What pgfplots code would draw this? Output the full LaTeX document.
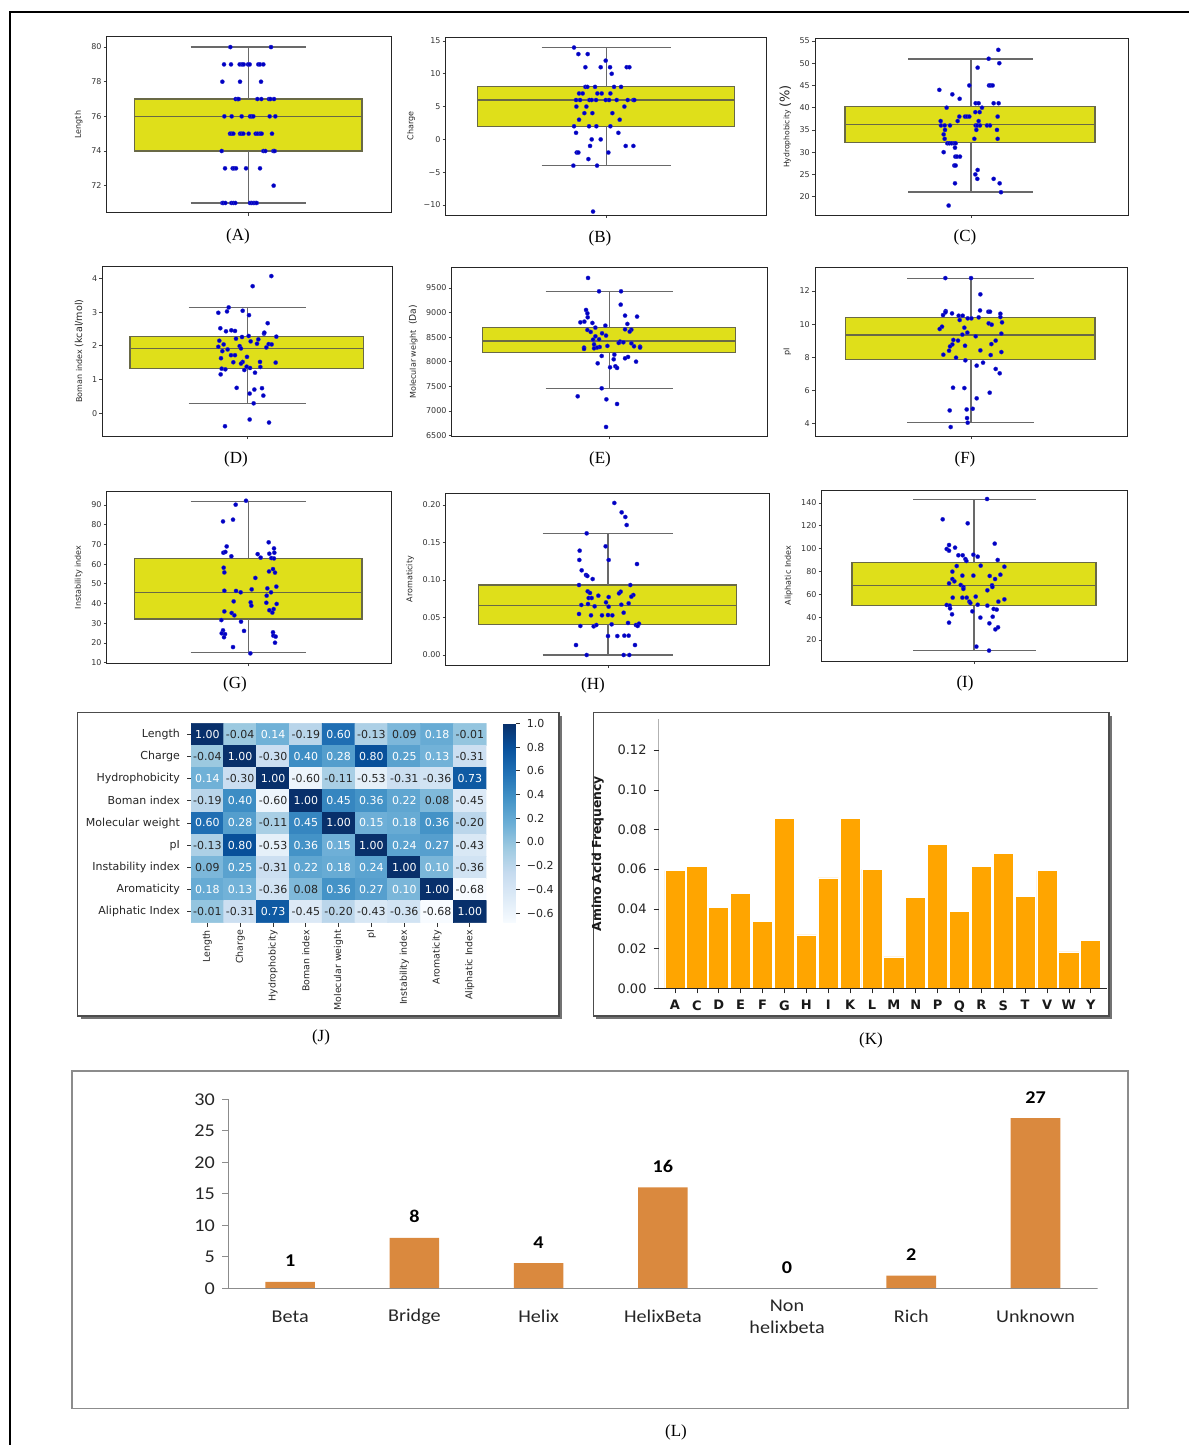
\documentclass[border=0pt]{standalone}
\usepackage{fontspec}
\setmainfont{DejaVu Sans}
\newfontfamily\serifL{Liberation Serif}
\newfontfamily\calib[FakeStretch=1.12]{Carlito}
\usepackage{pgfplots}
\pgfplotsset{compat=1.18}
\usepackage{pgfplotstable}

\definecolor{boxy}{RGB}{223,223,26}
\definecolor{boxedge}{RGB}{105,105,70}
\definecolor{whisk}{RGB}{105,105,105}
\definecolor{dotblue}{RGB}{0,0,195}
\definecolor{kor}{RGB}{255,165,0}
\definecolor{lor}{RGB}{218,137,62}

\newcommand{\tk}{\fontsize{4}{4.5}\selectfont}
\newcommand{\hm}{\fontsize{5.5}{6}\selectfont}
\newcommand{\hmc}{\fontsize{4.7}{5}\selectfont}

\pgfplotsset{
 /pgf/number format/assume math mode=true,
 bp/.style={
   scale only axis, anchor=south west,
   axis line style={black!85, line width=0.45pt},
   tick align=outside, xtick pos=left, ytick pos=left,
   major tick length=1.6pt,
   tick style={black!75, line width=0.35pt},
   xticklabels={},
   ticklabel style={font=\tk, text=black!80},
   yticklabel style={inner sep=0.8pt},
   ylabel style={font=\tk, text=black!85},
 },
 dots/.style={only marks, mark=*, mark size=1.05pt, mark options={fill=dotblue, draw=dotblue!80!white, line width=0.15pt}},
}

% box: left, right, q1, q3, median
\newcommand{\bbox}[5]{%
 \addplot[fill=boxy, draw=boxedge, line width=0.6pt, mark=none] coordinates {(#1,#3) (#2,#3) (#2,#4) (#1,#4)} -- cycle;
 \addplot[draw=boxedge, line width=0.6pt, mark=none] coordinates {(#1,#5) (#2,#5)};
}
% whiskers: capL, capR, centre, low, high, q1, q3
\newcommand{\bwhisk}[7]{%
 \addplot[draw=whisk, line width=0.6pt, mark=none] coordinates {(#3,#4) (#3,#6)};
 \addplot[draw=whisk, line width=0.6pt, mark=none] coordinates {(#3,#7) (#3,#5)};
 \addplot[draw=whisk, line width=0.6pt, mark=none] coordinates {(#1,#4) (#2,#4)};
 \addplot[draw=whisk, line width=0.6pt, mark=none] coordinates {(#1,#5) (#2,#5)};
}

\pgfplotstableread{
x y c
0 0 1.00
1 0 -0.04
2 0 0.14
3 0 -0.19
4 0 0.60
5 0 -0.13
6 0 0.09
7 0 0.18
8 0 -0.01
0 1 -0.04
1 1 1.00
2 1 -0.30
3 1 0.40
4 1 0.28
5 1 0.80
6 1 0.25
7 1 0.13
8 1 -0.31
0 2 0.14
1 2 -0.30
2 2 1.00
3 2 -0.60
4 2 -0.11
5 2 -0.53
6 2 -0.31
7 2 -0.36
8 2 0.73
0 3 -0.19
1 3 0.40
2 3 -0.60
3 3 1.00
4 3 0.45
5 3 0.36
6 3 0.22
7 3 0.08
8 3 -0.45
0 4 0.60
1 4 0.28
2 4 -0.11
3 4 0.45
4 4 1.00
5 4 0.15
6 4 0.18
7 4 0.36
8 4 -0.20
0 5 -0.13
1 5 0.80
2 5 -0.53
3 5 0.36
4 5 0.15
5 5 1.00
6 5 0.24
7 5 0.27
8 5 -0.43
0 6 0.09
1 6 0.25
2 6 -0.31
3 6 0.22
4 6 0.18
5 6 0.24
6 6 1.00
7 6 0.10
8 6 -0.36
0 7 0.18
1 7 0.13
2 7 -0.36
3 7 0.08
4 7 0.36
5 7 0.27
6 7 0.10
7 7 1.00
8 7 -0.68
0 8 -0.01
1 8 -0.31
2 8 0.73
3 8 -0.45
4 8 -0.20
5 8 -0.43
6 8 -0.36
7 8 -0.68
8 8 1.00
}\heat

\pgfplotstableread{
x y l
0 0 1.00
2 0 0.14
4 0 0.60
7 0 0.18
1 1 1.00
3 1 0.40
4 1 0.28
5 1 0.80
6 1 0.25
7 1 0.13
0 2 0.14
2 2 1.00
8 2 0.73
1 3 0.40
3 3 1.00
4 3 0.45
5 3 0.36
6 3 0.22
0 4 0.60
1 4 0.28
3 4 0.45
4 4 1.00
5 4 0.15
6 4 0.18
7 4 0.36
1 5 0.80
3 5 0.36
4 5 0.15
5 5 1.00
6 5 0.24
7 5 0.27
1 6 0.25
3 6 0.22
4 6 0.18
5 6 0.24
6 6 1.00
7 6 0.10
0 7 0.18
1 7 0.13
4 7 0.36
5 7 0.27
6 7 0.10
7 7 1.00
2 8 0.73
8 8 1.00
}\heatw

\pgfplotstableread{
x y l
1 0 -0.04
3 0 -0.19
5 0 -0.13
6 0 0.09
8 0 -0.01
0 1 -0.04
2 1 -0.30
8 1 -0.31
1 2 -0.30
3 2 -0.60
4 2 -0.11
5 2 -0.53
6 2 -0.31
7 2 -0.36
0 3 -0.19
2 3 -0.60
7 3 0.08
8 3 -0.45
2 4 -0.11
8 4 -0.20
0 5 -0.13
2 5 -0.53
8 5 -0.43
0 6 0.09
2 6 -0.31
8 6 -0.36
2 7 -0.36
3 7 0.08
8 7 -0.68
0 8 -0.01
1 8 -0.31
3 8 -0.45
4 8 -0.20
5 8 -0.43
6 8 -0.36
7 8 -0.68
}\heatd

\begin{document}
\begin{tikzpicture}
\path[use as bounding box] (0,0) rectangle (594.5pt,722.5pt);
\draw[line width=1.2pt] (5pt,0pt) -- (5pt,716.5pt) -- (594.5pt,716.5pt);

% frames of J, K, L
\fill[black!55] (40.35pt,213pt) rectangle (281pt,364.65pt);
\filldraw[fill=white, draw=black!70, line width=0.6pt] (38.85pt,214.5pt) rectangle (279.5pt,366.15pt);
\fill[black!55] (298.2pt,213pt) rectangle (556pt,364.65pt);
\filldraw[fill=white, draw=black!70, line width=0.6pt] (296.7pt,214.5pt) rectangle (554.5pt,366.15pt);
\draw[black!45, line width=0.7pt] (36pt,18.35pt) rectangle (564pt,187pt);

% ---------------- A
\begin{axis}[bp, at={(53.35pt,616.15pt)}, width=142.15pt, height=88pt,
 xmin=110, xmax=963, ymin=70.44, ymax=80.6, xtick={535},
 ytick={72,74,76,78,80}, yticklabels={72,74,76,78,80}, ylabel={Length}]
\bbox{193}{876}{74}{77}{76}
\bwhisk{362}{707}{535}{71}{80}{74}{77}
\addplot[dots] coordinates {
(481,80)(603,80)
(462,79)(483,79)(509,79)(516,79)(521,79)(534,79)(539,79)(565,79)(570,79)(580,79)
(457,78)(510,78)(573,78)
(497,77)(503,77)(506,77)(562,77)(574,77)(597,77)(601,77)(612,77)
(463,76)(485,76)(515,76)(540,76)(545,76)(550,76)(599,76)(616,76)
(480,75)(485,75)(490,75)(510,75)(515,75)(520,75)(536,75)(557,75)(563,75)(570,75)(575,75)(606,75)
(455,74)(580,74)(586,74)(610,74)(614,74)
(465,73)(488,73)(492,73)(498,73)(528,73)(570,73)
(611,72)
(457,71)(460,71)(466,71)(484,71)(490,71)(496,71)(540,71)(545,71)(550,71)(555,71)(560,71)};
\end{axis}

% ---------------- B
\begin{axis}[bp, at={(222.85pt,615pt)}, width=160.5pt, height=88.85pt,
 xmin=137, xmax=1100, ymin=-11.52, ymax=15.56, xtick={619},
 ytick={-10,-5,0,5,10,15}, yticklabels={−10,−5,0,5,10,15}, ylabel={Charge}]
\bbox{232}{1003}{2}{8}{6}
\bwhisk{425}{812}{619}{-4}{14}{2}{8}
\addplot[dots] coordinates {
(522,14)(535,13)(563,13)(617,12)(556,11)(602,11)(630,11)(680,11)(688,11)(635,10)
(556,8)(562,8)(585,8)(642,8)(663,8)(537,7)(548,7)(592,7)(605,7)(631,7)
(528,6)(540,6)(568,6)(575,6)(588,6)(617,6)(627,6)(650,6)(683,6)(700,6)(703,6)
(529,5)(559,5)(673,5)(553,4)(577,4)(637,4)(537,3)(659,3)(522,2)(567,2)(589,2)(631,2)
(528,1)(655,1)(575,0)(602,0)(570,-1)(677,-1)(700,-1)(530,-2)(535,-2)(625,-2)
(565,-3)(520,-4)(591,-4)(579,-11)};
\end{axis}

% ---------------- C
\begin{axis}[bp, at={(407.5pt,615pt)}, width=156.65pt, height=88.35pt,
 xmin=135, xmax=1075, ymin=15.88, ymax=55.6, xtick={603},
 ytick={20,25,30,35,40,45,50,55}, yticklabels={20,25,30,35,40,45,50,55},
 ylabel={{\fontsize{3.8}{4}\selectfont Hydrophobicity }{\fontsize{6.5}{7}\selectfont (\%)}}]
\bbox{225}{975}{32.2}{40.3}{36.2}
\bwhisk{415}{790}{603}{21.05}{50.96}{32.2}{40.3}
\addplot[dots] coordinates {
(685,53)(656,51)(688,50)(623,49)(598,45)(657,45)(662,45)(668,45)(508,44)(547,43)(569,42)
(617,41)(626,41)(671,41)(686,41)(530,40)(636,40)(616,39)(629,39)
(568,38)(585,38)(591,38)(598,38)(683,38)(512,37)(563,37)(626,37)
(513,36)(524,36)(540,36)(617,36)(622,36)(630,36)(651,36)(660,36)
(525,35)(619,35)(681,35)(521,34)(524,33)(613,33)(683,33)
(532,32)(538,32)(545,32)(552,32)(557,32)(555,31)(521,30)(556,29)(561,29)(570,29)
(553,27)(557,27)(623,26)(616,25)(622,24)(671,24)(555,23)(689,23)(693,21)(536,18)};
\end{axis}

% ---------------- D
\begin{axis}[bp, at={(51.15pt,504.5pt)}, width=145.2pt, height=85pt,
 xmin=97, xmax=968, ymin=-0.68, ymax=4.37, xtick={533},
 ytick={0,1,2,3,4}, yticklabels={0,1,2,3,4},
 ylabel={{\fontsize{4}{4.5}\selectfont Boman index }{\fontsize{4.8}{5}\selectfont (kcal/mol)}}]
\bbox{180}{880}{1.32}{2.27}{1.92}
\bwhisk{356}{708}{533}{0.29}{3.13}{1.32}{2.27}
\addplot[dots] coordinates {
(604,4.07)(548,3.77)(476,3.14)(445,2.98)(471,3.02)(518,3.04)(537,2.91)(593,2.67)
(451,2.52)(468,2.43)(484,2.46)(495,2.44)(582,2.36)(583,2.39)(619,2.27)(498,2.21)
(516,2.26)(536,2.29)(565,2.19)(448,2.15)(542,2.13)(461,2.04)(561,2.06)(596,2.05)
(605,2.04)(445,1.97)(509,1.99)(513,1.92)(473,1.89)(589,1.95)(457,1.84)(483,1.72)
(495,1.72)(531,1.67)(453,1.63)(490,1.51)(518,1.52)(513,1.47)(570,1.52)(617,1.50)
(530,1.38)(571,1.37)(455,1.32)(466,1.30)(523,1.28)(540,1.34)(555,1.20)(452,1.15)
(500,0.75)(553,0.70)(576,0.74)(539,0.58)(580,0.52)(551,0.29)(539,-0.19)(465,-0.39)(597,-0.28)};
\end{axis}

% ---------------- E
\begin{axis}[bp, at={(225.85pt,504.5pt)}, width=158pt, height=84.35pt,
 xmin=155, xmax=1103, ymin=6493, ymax=9920, xtick={629},
 ytick={6500,7000,7500,8000,8500,9000,9500}, yticklabels={6500,7000,7500,8000,8500,9000,9500},
 ylabel={{\fontsize{4}{4.5}\selectfont Molecular weight }{\fontsize{4.6}{5}\selectfont ~(Da)}}]
\bbox{248}{1006}{8186}{8701}{8423}
\bwhisk{437}{818}{629}{7461}{9425}{8186}{8701}
\addplot[dots] coordinates {
(564,9703)(597,9432)(663,9432)(662,9161)(558,9053)(562,8985)(563,8904)(675,8938)(711,8918)
(541,8802)(553,8816)(577,8789)(682,8769)(616,8735)(586,8694)(675,8660)(694,8653)(689,8613)
(562,8647)(572,8606)(606,8579)(618,8532)(586,8518)(579,8450)(597,8457)(660,8410)(656,8383)
(670,8396)(582,8355)(694,8376)(622,8322)(702,8315)(720,8308)(720,8288)(552,8288)(552,8261)
(599,8301)(591,8288)(582,8274)(605,8119)(643,8146)(684,8098)(675,8071)(708,8003)(641,8051)
(593,7969)(630,7888)(646,7909)(651,7875)(605,7462)(533,7299)(619,7238)(651,7143)(618,6676)};
\end{axis}

% ---------------- F
\begin{axis}[bp, at={(407.5pt,504.5pt)}, width=156.35pt, height=84.35pt,
 xmin=135, xmax=1073, ymin=3.26, ymax=13.43, xtick={603},
 ytick={4,6,8,10,12}, yticklabels={4,6,8,10,12}, ylabel={pI}]
\bbox{227}{975}{7.88}{10.41}{9.35}
\bwhisk{412}{792}{603}{4.07}{12.76}{7.88}{10.41}
\addplot[dots] coordinates {
(526,12.78)(603,12.78)(631,11.80)(527,10.79)(526,10.71)(519,10.55)(546,10.65)(566,10.51)
(578,10.51)(569,10.25)(593,10.35)(604,10.35)(626,10.41)(630,10.83)(655,10.75)(660,10.75)
(691,10.63)(691,10.43)(696,10.11)(656,10.05)(665,9.97)(516,9.85)(509,9.71)(583,9.79)
(577,9.37)(592,9.49)(694,9.43)(617,9.27)(550,9.05)(564,9.01)(677,9.01)(664,8.80)
(547,8.78)(540,8.66)(585,8.70)(537,8.40)(631,8.42)(694,8.32)(520,8.16)(662,8.14)
(558,7.98)(586,7.82)(639,7.68)(620,7.50)(677,7.30)(689,7.04)(549,6.17)(583,6.15)
(659,5.87)(620,5.53)(539,4.80)(590,4.86)(608,4.90)(591,4.34)(593,4.06)(542,3.80)};
\end{axis}

% ---------------- G
\begin{axis}[bp, at={(53.35pt,390.85pt)}, width=142.15pt, height=85.8pt,
 xmin=110, xmax=963, ymin=9.66, ymax=96.8, xtick={535},
 ytick={10,20,30,40,50,60,70,80,90}, yticklabels={10,20,30,40,50,60,70,80,90},
 ylabel={Instability index}]
\bbox{193}{876}{32.2}{62.9}{45.7}
\bwhisk{362}{707}{535}{15.07}{92.0}{32.2}{62.9}
\addplot[dots] coordinates {
(528,92.2)(497,90.2)(459,81.7)(489,82.6)(470,69.0)(596,71.1)(612,68.0)(613,65.8)
(460,65.8)(466,66.2)(484,64.0)(563,65.1)(572,63.3)(598,65.3)(604,63.1)(612,62.9)
(461,58.2)(463,55.8)(609,57.5)(597,56.3)(615,55.7)(556,53.0)(619,48.6)(592,47.7)
(545,47.2)(463,46.5)(498,46.4)(512,45.7)(603,45.7)(590,44.0)(491,41.1)(542,40.6)
(589,40.4)(620,39.8)(544,38.9)(463,36.0)(598,36.6)(611,37.2)(485,35.2)(607,35.4)
(493,34.0)(454,31.6)(513,30.8)(459,26.4)(522,26.1)(609,25.4)(455,24.9)(465,24.5)
(610,23.7)(617,23.2)(462,22.9)(615,20.1)(489,17.9)(541,14.7)};
\end{axis}

% ---------------- H
\begin{axis}[bp, at={(222.85pt,390pt)}, width=161.8pt, height=85.85pt,
 xmin=137, xmax=1108, ymin=-0.0133, ymax=0.2156, xtick={624},
 ytick={0,0.05,0.1,0.15,0.2}, yticklabels={0.00,0.05,0.10,0.15,0.20}, ylabel={Aromaticity}]
\bbox{235}{1010}{0.0409}{0.0933}{0.0662}
\bwhisk{428}{818}{624}{0}{0.1622}{0.0409}{0.0933}
\addplot[dots] coordinates {
(643,0.2027)(665,0.1902)(676,0.1840)(680,0.1733)(560,0.1622)(617,0.1449)(539,0.1391)
(538,0.1267)(626,0.1267)(711,0.1213)(545,0.1129)(558,0.1067)(562,0.1053)(578,0.1013)
(537,0.0933)(691,0.0933)(563,0.0849)(570,0.0827)(662,0.0844)(657,0.0822)(595,0.0791)
(700,0.0800)(694,0.0778)(566,0.0760)(575,0.0760)(626,0.0773)(618,0.0702)(686,0.0689)
(564,0.0680)(544,0.0667)(664,0.0671)(584,0.0649)(626,0.0644)(671,0.0564)(537,0.0547)
(573,0.0529)(606,0.0529)(624,0.0533)(637,0.0529)(541,0.0387)(581,0.0382)(589,0.0400)
(635,0.0409)(684,0.0427)(708,0.0400)(717,0.0418)(713,0.0387)(624,0.0253)(652,0.0253)
(673,0.0258)(686,0.0258)(528,0.0133)(705,0.0133)(560,0)(671,0)(688,0)};
\end{axis}

% ---------------- I
\begin{axis}[bp, at={(410.85pt,392pt)}, width=153pt, height=85.5pt,
 xmin=155, xmax=1073, ymin=1.6, ymax=151.4, xtick={612},
 ytick={20,40,60,80,100,120,140}, yticklabels={20,40,60,80,100,120,140},
 ylabel={Aliphatic Index}]
\bbox{246}{978}{50.07}{87.7}{67.6}
\bwhisk{430}{797}{612}{10.95}{143.2}{50.07}{87.7}
\addplot[dots] coordinates {
(651,143.5)(518,125.7)(593,122.2)(674,104.4)(537,103.2)(555,100.9)(530,99.7)(537,98.2)
(565,94.2)(578,94.2)(610,94.7)(623,93.0)(586,90.9)(589,89.2)(683,90.1)(560,84.8)
(632,85.1)(703,84.2)(547,79.9)(577,76.4)(610,76.4)(659,76.1)(691,77.2)(547,73.4)
(553,71.4)(675,73.4)(537,69.6)(572,68.2)(580,66.4)(580,64.7)(666,67.9)(667,66.4)
(652,63.5)(548,57.1)(577,57.1)(590,57.1)(617,58.0)(703,55.6)(598,53.6)(601,52.4)
(685,53.6)(530,50.7)(539,50.1)(623,50.9)(652,50.1)(540,47.7)(671,47.2)(680,46.6)
(607,45.1)(546,42.5)(668,40.4)(631,39.6)(537,35.2)(658,34.6)(684,31.1)(676,29.3)
(619,14.2)(657,10.7)};
\end{axis}

% ---------------- J heatmap
\begin{axis}[at={(95.5pt,261.15pt)}, anchor=south west, scale only axis,
 width=147.65pt, height=99.7pt,
 xmin=-0.5, xmax=8.5, ymin=-0.5, ymax=8.5, y dir=reverse, enlargelimits=false,
 colormap={blues}{rgb255=(247,251,255) rgb255=(222,235,247) rgb255=(198,219,239) rgb255=(158,202,225) rgb255=(107,174,214) rgb255=(66,146,198) rgb255=(33,113,181) rgb255=(8,81,156) rgb255=(8,48,107)},
 point meta min=-0.68, point meta max=1,
 axis line style={draw=none},
 tick align=outside, xtick pos=left, ytick pos=left, major tick length=2pt,
 tick style={black!80, line width=0.4pt},
 xtick={0,1,2,3,4,5,6,7,8}, ytick={0,1,2,3,4,5,6,7,8},
 xticklabels={Length,Charge,Hydrophobicity,Boman index,Molecular weight,pI,Instability index,Aromaticity,Aliphatic Index},
 yticklabels={Length,Charge,Hydrophobicity,Boman index,Molecular weight,pI,Instability index,Aromaticity,Aliphatic Index},
 xticklabel style={rotate=90, anchor=east, font=\hmc, text=black!85, inner sep=1.5pt},
 yticklabel style={font=\hm, text=black!85},
 colorbar,
 colorbar style={at={(parent axis.north east)}, anchor=north west, xshift=0pt,
   width=6.2pt, axis line style={draw=none},
   ytick={-0.6,-0.4,-0.2,0,0.2,0.4,0.6,0.8,1},
   yticklabels={−0.6,−0.4,−0.2,0.0,0.2,0.4,0.6,0.8,1.0},
   ytick pos=right, yticklabel pos=right, tick align=outside, major tick length=2pt,
   tick style={black!80, line width=0.4pt},
   yticklabel style={font=\hm, text=black!85}},
]
\addplot[matrix plot*, mesh/cols=9, point meta=explicit] table[meta=c] {\heat};
\addplot[draw=none, mark=none, point meta=explicit symbolic,
  nodes near coords, every node near coord/.append style={font=\hm, text=white, anchor=center}]
  table[meta=l] {\heatw};
\addplot[draw=none, mark=none, point meta=explicit symbolic,
  nodes near coords, every node near coord/.append style={font=\hm, text=black!85, anchor=center}]
  table[meta=l] {\heatd};
\end{axis}

% ---------------- K
\begin{axis}[at={(329.3pt,228.35pt)}, anchor=south west, scale only axis,
 width=224.3pt, height=134.5pt,
 xmin=-0.75, xmax=19.75, ymin=0, ymax=0.1356,
 axis line style={draw=none},
 tick align=outside, xtick pos=left, ytick pos=left, major tick length=2.5pt,
 tick style={black!85, line width=0.4pt},
 xtick={0,...,19}, xticklabels={A,C,D,E,F,G,H,I,K,L,M,N,P,Q,R,S,T,V,W,Y},
 ytick={0,0.02,0.04,0.06,0.08,0.1,0.12}, yticklabels={0.00,0.02,0.04,0.06,0.08,0.10,0.12},
 xticklabel style={font=\bfseries\fontsize{6.5}{7}\selectfont, text=black!90},
 yticklabel style={font=\fontsize{6.5}{7}\selectfont, text=black!85},
 ylabel={Amino Acid Frequency}, ylabel style={font=\bfseries\fontsize{6.2}{7}\selectfont, text=black!90},
 ybar, bar width=0.92]
\addplot[fill=kor, draw=white, line width=0.4pt] coordinates {
(0,0.0593)(1,0.0613)(2,0.0407)(3,0.0476)(4,0.0339)(5,0.0855)(6,0.0269)(7,0.0556)(8,0.0855)(9,0.0600)
(10,0.0158)(11,0.0457)(12,0.0724)(13,0.0388)(14,0.0613)(15,0.0681)(16,0.0462)(17,0.0593)(18,0.0183)(19,0.0240)};
\draw[black!85, line width=0.5pt] (rel axis cs:0,1) -- (rel axis cs:0,0) -- (rel axis cs:1,0);
\end{axis}

% ---------------- L
\begin{axis}[at={(114pt,78.35pt)}, anchor=south west, scale only axis,
 width=434.85pt, height=94.5pt,
 xmin=-0.5, xmax=6.5, ymin=0, ymax=30,
 axis line style={draw=none},
 xtick={0,...,6}, xticklabels={Beta,Bridge,Helix,HelixBeta,{Non\\helixbeta},Rich,Unknown},
 xtick style={draw=none},
 ytick={0,5,10,15,20,25,30}, yticklabels={0,5,10,15,20,25,30},
 tick align=outside, ytick pos=left, xtick pos=left, major tick length=3pt,
 ytick style={black!45, line width=0.5pt},
 xticklabel style={font=\calib\fontsize{9}{11}\selectfont, align=center, anchor=center, yshift=-11pt, text=black!85},
 yticklabel style={font=\calib\fontsize{9}{10}\selectfont, text=black!85},
 ybar, bar width=0.4,
 nodes near coords,
 nodes near coords style={font=\calib\bfseries\fontsize{9}{10}\selectfont, yshift=4pt, text=black}]
\addplot[fill=lor, draw=none] coordinates {(0,1)(1,8)(2,4)(3,16)(4,0)(5,2)(6,27)};
\draw[black!45, line width=0.6pt] (rel axis cs:0,1) -- (rel axis cs:0,0) -- (rel axis cs:1,0);
\end{axis}

% panel labels
\node[font=\serifL\fontsize{8.5}{9}\selectfont] at (119pt,604.5pt) {(A)};
\node[font=\serifL\fontsize{8.5}{9}\selectfont] at (300pt,603.5pt) {(B)};
\node[font=\serifL\fontsize{8.5}{9}\selectfont] at (482.5pt,604pt) {(C)};
\node[font=\serifL\fontsize{8.5}{9}\selectfont] at (118pt,493pt) {(D)};
\node[font=\serifL\fontsize{8.5}{9}\selectfont] at (300pt,493pt) {(E)};
\node[font=\serifL\fontsize{8.5}{9}\selectfont] at (482.5pt,493pt) {(F)};
\node[font=\serifL\fontsize{8.5}{9}\selectfont] at (117.5pt,380.5pt) {(G)};
\node[font=\serifL\fontsize{8.5}{9}\selectfont] at (296.5pt,380pt) {(H)};
\node[font=\serifL\fontsize{8.5}{9}\selectfont] at (482.5pt,381pt) {(I)};
\node[font=\serifL\fontsize{8.5}{9}\selectfont] at (160.5pt,204pt) {(J)};
\node[font=\serifL\fontsize{8.5}{9}\selectfont] at (435.5pt,202.5pt) {(K)};
\node[font=\serifL\fontsize{8.5}{9}\selectfont] at (338pt,6.5pt) {(L)};
\end{tikzpicture}
\end{document}
